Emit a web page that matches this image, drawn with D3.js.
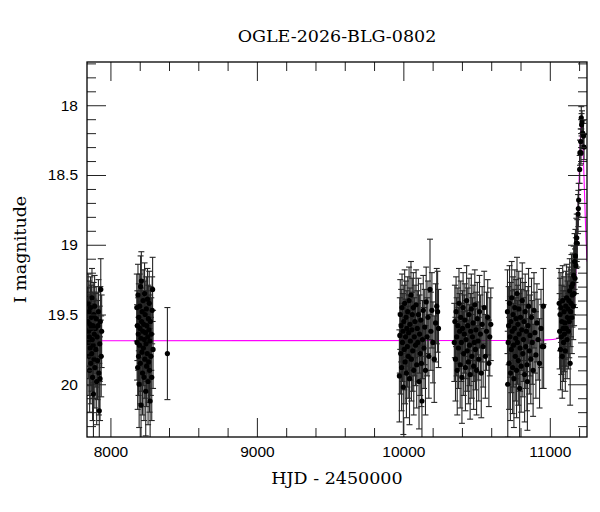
<!DOCTYPE html>
<html>
<head>
<meta charset="utf-8">
<script src="https://cdn.jsdelivr.net/npm/d3@7"></script>
<style>
  html, body { margin: 0; padding: 0; background: #fff; }
  svg { display: block; font-family: "DejaVu Serif", "Liberation Serif", serif; }
  .frame { fill: none; stroke: #000; stroke-width: 1.3; }
  .tick line { stroke: #222; stroke-width: 1; }
  .domain { display: none; }
  .tick text { font-size: 15.5px; fill: #000; }
  .title, .caption { font-size: 17.5px; fill: #000; }
  .bar { stroke: #262626; stroke-width: 1.1; }
  .model { fill: none; stroke: #ff00ff; stroke-width: 1.1; }
</style>
</head>
<body>
<svg id="lc" width="600" height="512"></svg>
<script>
// [HJD-2450000, I mag, error] per observing season
const season1 = [
  [7846,19.55,0.24],[7848,19.42,0.21],[7849,19.70,0.26],[7851,19.62,0.25],[7853,19.80,0.28],
  [7854,19.48,0.22],[7856,19.66,0.25],[7858,19.90,0.30],[7860,19.57,0.23],[7862,19.74,0.27],
  [7864,19.45,0.22],[7866,19.85,0.29],[7868,19.60,0.24],[7870,19.52,0.23],[7872,19.78,0.27],
  [7874,19.38,0.21],[7876,19.68,0.26],[7878,19.95,0.31],[7880,19.58,0.24],[7882,19.72,0.27],
  [7884,20.07,0.32],[7886,19.50,0.23],[7888,19.82,0.28],[7890,19.64,0.25],[7892,19.44,0.22],
  [7894,19.88,0.29],[7897,19.60,0.25],[7900,19.75,0.27],[7903,19.53,0.23],[7906,19.98,0.31],
  [7909,19.66,0.26],[7912,19.83,0.28],[7915,19.58,0.24],[7918,19.48,0.23],[7921,19.92,0.30],
  [7924,20.19,0.34],[7927,19.71,0.27],[7929,19.96,0.30],[7931,19.55,0.25],[7934,19.32,0.22],
  [7937,19.80,0.29],[7940,19.62,0.26]
];
const season2 = [
  [8180,19.45,0.24],[8182,19.70,0.27],[8184,19.58,0.25],[8186,19.88,0.30],[8188,19.36,0.22],
  [8190,19.64,0.26],[8192,19.80,0.28],[8194,19.52,0.24],[8196,20.00,0.31],[8198,19.72,0.27],
  [8200,19.44,0.23],[8202,19.60,0.25],[8204,19.85,0.29],[8206,19.30,0.22],[8208,19.67,0.26],
  [8209,20.15,0.34],[8211,19.26,0.21],[8213,19.55,0.24],[8215,19.77,0.28],[8217,19.48,0.23],
  [8219,19.92,0.30],[8221,19.62,0.25],[8223,19.40,0.22],[8225,19.74,0.27],[8227,19.57,0.24],
  [8229,19.95,0.31],[8231,19.68,0.26],[8233,19.35,0.22],[8235,19.82,0.28],[8237,19.50,0.24],
  [8239,19.63,0.25],[8241,20.05,0.32],[8243,19.71,0.27],[8245,19.46,0.23],[8247,19.87,0.29],
  [8249,19.58,0.25],[8251,19.78,0.28],[8253,19.39,0.22],[8255,19.66,0.26],[8257,19.98,0.31],
  [8259,19.53,0.24],[8261,19.84,0.29],[8263,19.61,0.25],[8265,19.42,0.23],[8267,19.90,0.30],
  [8269,19.69,0.27],[8271,20.12,0.33],[8273,19.55,0.25],[8276,19.80,0.28],[8279,19.64,0.26],
  [8282,19.95,0.31],[8285,19.47,0.24],[8288,19.32,0.23],[8291,19.75,0.28]
];
const season3 = [[8389,19.78,0.33]];
const season4 = [
  [9973,19.94,0.33],[9976,19.65,0.27],[9979,19.50,0.25],[9982,19.78,0.29],[9985,19.58,0.26],
  [9988,19.88,0.31],[9991,19.45,0.24],[9994,19.70,0.28],[9997,19.62,0.27],[10000,20.02,0.34],
  [10003,19.55,0.26],[10006,19.75,0.29],[10009,19.42,0.24],[10012,19.84,0.30],[10015,19.66,0.27],
  [10018,19.52,0.26],[10021,19.92,0.32],[10024,19.60,0.27],[10027,19.73,0.29],[10030,19.48,0.25],
  [10033,19.80,0.30],[10036,19.63,0.27],[10039,19.40,0.24],[10042,19.96,0.33],[10045,19.57,0.26],
  [10048,19.69,0.28],[10052,19.36,0.24],[10055,19.82,0.30],[10058,19.61,0.27],[10061,19.50,0.26],
  [10064,19.76,0.29],[10068,19.45,0.25],[10071,19.90,0.32],[10075,19.66,0.28],[10079,19.55,0.26],
  [10083,19.72,0.29],[10087,19.43,0.25],[10091,19.86,0.31],[10095,19.60,0.27],[10099,19.70,0.28],
  [10103,19.50,0.26],[10107,19.98,0.34],[10111,19.64,0.28],[10115,19.78,0.30],[10119,19.54,0.26],
  [10123,19.85,0.31],[10127,20.12,0.36],[10131,19.68,0.28],[10136,19.47,0.25],[10141,19.74,0.29],
  [10146,19.59,0.27],[10151,19.90,0.32],[10156,19.41,0.25],[10162,19.66,0.28],[10168,19.52,0.26],
  [10174,19.80,0.30],[10182,19.32,0.36],[10188,19.62,0.28],[10195,19.47,0.27],[10202,19.70,0.29],
  [10211,19.82,0.31],[10220,19.56,0.28],[10228,19.44,0.27],[10234,19.48,0.29],[10240,19.60,0.28]
];
const season5 = [
  [10348,19.70,0.28],[10352,19.55,0.26],[10356,19.82,0.30],[10360,19.48,0.25],[10364,19.66,0.28],
  [10368,19.90,0.32],[10372,19.58,0.27],[10376,19.74,0.29],[10380,19.42,0.25],[10384,19.62,0.27],
  [10388,19.86,0.31],[10392,19.52,0.26],[10396,19.70,0.28],[10400,19.95,0.33],[10404,19.60,0.27],
  [10408,19.45,0.25],[10412,19.78,0.30],[10416,19.64,0.28],[10420,19.54,0.26],[10424,19.88,0.31],
  [10428,19.68,0.28],[10432,19.40,0.25],[10436,19.76,0.29],[10440,19.58,0.27],[10444,19.84,0.30],
  [10448,19.50,0.26],[10452,19.72,0.29],[10456,19.93,0.32],[10460,19.62,0.27],[10464,19.46,0.25],
  [10468,19.80,0.30],[10472,19.66,0.28],[10476,19.56,0.27],[10480,19.87,0.31],[10484,19.70,0.28],
  [10488,19.43,0.25],[10492,19.75,0.29],[10496,19.61,0.27],[10500,19.90,0.32],[10505,19.53,0.26],
  [10510,19.69,0.28],[10515,19.82,0.30],[10520,19.48,0.26],[10526,19.64,0.28],[10532,19.92,0.32],
  [10538,19.57,0.27],[10545,19.73,0.29],[10552,19.45,0.26],[10560,19.80,0.30],[10568,19.62,0.28],
  [10576,19.52,0.27],[10584,19.85,0.31],[10590,19.66,0.28],[10597,19.57,0.26]
];
const season6 = [
  [10711,19.48,0.30],[10713,20.00,0.38],[10716,19.70,0.30],[10719,19.58,0.28],[10722,19.85,0.33],
  [10725,19.42,0.27],[10728,19.66,0.29],[10731,19.92,0.34],[10734,19.55,0.28],[10737,19.75,0.31],
  [10740,19.38,0.26],[10743,19.62,0.29],[10746,19.88,0.33],[10749,19.50,0.27],[10752,19.72,0.30],
  [10755,19.96,0.35],[10758,19.60,0.28],[10761,19.45,0.27],[10764,19.80,0.32],[10767,19.67,0.29],
  [10770,19.53,0.28],[10773,19.90,0.34],[10776,19.35,0.26],[10779,19.70,0.30],[10782,19.57,0.28],
  [10785,19.83,0.32],[10788,19.46,0.27],[10791,19.64,0.29],[10794,20.03,0.37],[10797,19.74,0.31],
  [10800,19.52,0.28],[10804,19.87,0.33],[10808,19.61,0.29],[10812,19.40,0.27],[10816,19.78,0.31],
  [10820,19.68,0.30],[10824,19.55,0.28],[10828,19.93,0.34],[10832,19.48,0.27],[10836,19.73,0.30],
  [10840,19.62,0.29],[10844,19.86,0.33],[10847,19.98,0.35],[10851,19.58,0.28],[10855,19.44,0.27],
  [10860,19.76,0.31],[10865,19.65,0.29],[10870,19.82,0.32],[10875,19.52,0.28],[10880,19.70,0.30],
  [10886,19.90,0.33],[10892,19.47,0.27],[10898,19.63,0.29],[10905,19.79,0.31],[10912,19.56,0.28],
  [10920,19.68,0.29],[10930,19.85,0.32],[10940,19.60,0.28],[10948,19.73,0.30],[10956,19.44,0.27],
  [10958,19.73,0.30]
];
const season7 = [
  [11064,19.42,0.25],[11067,19.62,0.27],[11070,19.50,0.26],[11073,19.75,0.29],[11076,19.45,0.25],
  [11079,19.66,0.27],[11082,19.55,0.26],[11085,19.80,0.30],[11088,19.40,0.25],[11091,19.60,0.27],
  [11094,19.70,0.28],[11097,19.48,0.25],[11100,19.64,0.27],[11103,19.56,0.26],[11106,19.76,0.29],
  [11109,19.44,0.25],[11112,19.60,0.27],[11115,19.38,0.24],[11118,19.68,0.28],[11121,19.52,0.26],
  [11124,19.46,0.25],[11127,19.62,0.27],[11130,19.40,0.24],[11133,19.55,0.26],[11136,19.33,0.23],
  [11139,19.85,0.30],[11142,19.48,0.25],[11145,19.42,0.24],[11148,19.30,0.23],[11151,19.52,0.26],
  [11154,19.36,0.23],[11157,19.28,0.22],[11160,19.44,0.24],[11163,19.22,0.21],[11166,19.35,0.23],
  [11169,19.12,0.20],[11172,19.24,0.21],[11175,19.08,0.19],[11178,19.15,0.20],[11181,18.99,0.18],
  [11184,18.95,0.17],[11188,18.99,0.17],[11193,18.78,0.14],[11195,18.74,0.13],[11197,18.68,0.12],
  [11204,18.46,0.10],[11206,18.34,0.09],[11211,18.26,0.09],[11213,18.34,0.08],[11215,18.09,0.08],
  [11217,18.14,0.08],[11220,18.12,0.08],[11225,18.20,0.09],[11230,18.22,0.09],[11234,18.30,0.09]
];

// microlensing model curve
const modelHjd = [7840, 10900, 10980, 11040, 11080, 11110, 11130, 11145, 11155, 11167, 11177,
  11187, 11192, 11197, 11202, 11207, 11212, 11217, 11222, 11227, 11232, 11237, 11242, 11247, 11254];
const modelMag = [19.688, 19.686, 19.682, 19.675, 19.66, 19.63, 19.59, 19.54, 19.48, 19.37, 19.22,
  18.94, 18.80, 18.63, 18.46, 18.29, 18.15, 18.10, 18.15, 18.29, 18.46, 18.63, 18.80, 18.94, 19.12];

const xMajorTicks = [8000, 9000, 10000, 11000];
const xMinorTicks = [8200, 8400, 8600, 8800, 9200, 9400, 9600, 9800, 10200, 10400, 10600, 10800, 11200];
const yMajorTicks = [18, 18.5, 19, 19.5, 20];
const yMinorTicks = [17.7, 17.8, 17.9, 18.1, 18.2, 18.3, 18.4, 18.6, 18.7, 18.8, 18.9, 19.1, 19.2,
  19.3, 19.4, 19.6, 19.7, 19.8, 19.9, 20.1, 20.2, 20.3];

(function() {
  let svg = d3.select('#lc');
  let width = 600, height = 512;
  let margin = {'top': 62, 'bottom': 75, 'left': 87, 'right': 13};

  let hjdToX = d3.scaleLinear()
    .domain([7840, 11254])
    .range([margin.left, width - margin.right]);
  let magToY = d3.scaleLinear()
    .domain([17.69, 20.378])
    .range([margin.top, height - margin.bottom]);

  let data = [].concat(season1, season2, season3, season4, season5, season6, season7)
    .map(d => ({'hjd': d[0], 'mag': d[1], 'err': d[2]}));
  let model = modelHjd.map((h, i) => ({'hjd': h, 'mag': modelMag[i]}));

  svg.append('clipPath').attr('id', 'plot-clip')
    .append('rect')
    .attr('x', margin.left).attr('y', margin.top)
    .attr('width', width - margin.left - margin.right)
    .attr('height', height - margin.top - margin.bottom);

  let plot = svg.append('g').attr('clip-path', 'url(#plot-clip)');

  let line = d3.line()
    .x(d => hjdToX(d.hjd))
    .y(d => magToY(d.mag))
    .curve(d3.curveMonotoneX);
  plot.append('path').attr('class', 'model').attr('d', line(model));

  let bars = plot.append('g').selectAll('g').data(data).enter().append('g').attr('class', 'bar');
  bars.append('line')
    .attr('x1', d => hjdToX(d.hjd)).attr('x2', d => hjdToX(d.hjd))
    .attr('y1', d => magToY(d.mag - d.err)).attr('y2', d => magToY(d.mag + d.err));
  bars.append('line')
    .attr('x1', d => hjdToX(d.hjd) - 3).attr('x2', d => hjdToX(d.hjd) + 3)
    .attr('y1', d => magToY(d.mag - d.err)).attr('y2', d => magToY(d.mag - d.err));
  bars.append('line')
    .attr('x1', d => hjdToX(d.hjd) - 3).attr('x2', d => hjdToX(d.hjd) + 3)
    .attr('y1', d => magToY(d.mag + d.err)).attr('y2', d => magToY(d.mag + d.err));

  plot.append('g').selectAll('circle').data(data).enter().append('circle')
    .attr('cx', d => hjdToX(d.hjd))
    .attr('cy', d => magToY(d.mag))
    .attr('r', 2.6)
    .attr('fill', '#000');

  // inward ticks on all four sides
  let bottom = height - margin.bottom, right = width - margin.right;
  svg.append('g').attr('transform', 'translate(0, ' + bottom + ')')
    .call(d3.axisBottom(hjdToX).tickValues(xMajorTicks).tickSize(-19).tickPadding(9).tickFormat(d3.format('d')));
  svg.append('g').attr('transform', 'translate(0, ' + bottom + ')')
    .call(d3.axisBottom(hjdToX).tickValues(xMinorTicks).tickSize(-9).tickFormat(''));
  svg.append('g').attr('transform', 'translate(0, ' + margin.top + ')')
    .call(d3.axisTop(hjdToX).tickValues(xMajorTicks).tickSize(-19).tickFormat(''));
  svg.append('g').attr('transform', 'translate(0, ' + margin.top + ')')
    .call(d3.axisTop(hjdToX).tickValues(xMinorTicks).tickSize(-9).tickFormat(''));
  svg.append('g').attr('transform', 'translate(' + margin.left + ', 0)')
    .call(d3.axisLeft(magToY).tickValues(yMajorTicks).tickSize(-19).tickPadding(9).tickFormat(d => String(d)));
  svg.append('g').attr('transform', 'translate(' + margin.left + ', 0)')
    .call(d3.axisLeft(magToY).tickValues(yMinorTicks).tickSize(-9).tickFormat(''));
  svg.append('g').attr('transform', 'translate(' + right + ', 0)')
    .call(d3.axisRight(magToY).tickValues(yMajorTicks).tickSize(-19).tickFormat(''));
  svg.append('g').attr('transform', 'translate(' + right + ', 0)')
    .call(d3.axisRight(magToY).tickValues(yMinorTicks).tickSize(-9).tickFormat(''));
  svg.selectAll('.tick text').attr('font-family', null);

  svg.append('rect').attr('class', 'frame')
    .attr('x', margin.left).attr('y', margin.top)
    .attr('width', width - margin.left - margin.right)
    .attr('height', height - margin.top - margin.bottom);

  svg.append('text').attr('class', 'title')
    .attr('x', (margin.left + right) / 2).attr('y', 41.5)
    .attr('text-anchor', 'middle')
    .text('OGLE-2026-BLG-0802');
  svg.append('text').attr('class', 'caption')
    .attr('x', (margin.left + right) / 2).attr('y', 484)
    .attr('text-anchor', 'middle')
    .text('HJD - 2450000');
  svg.append('text').attr('class', 'caption')
    .attr('transform', 'translate(26, ' + (margin.top + bottom) / 2 + ') rotate(-90)')
    .attr('text-anchor', 'middle')
    .text('I magnitude');
})();
</script>
</body>
</html>
